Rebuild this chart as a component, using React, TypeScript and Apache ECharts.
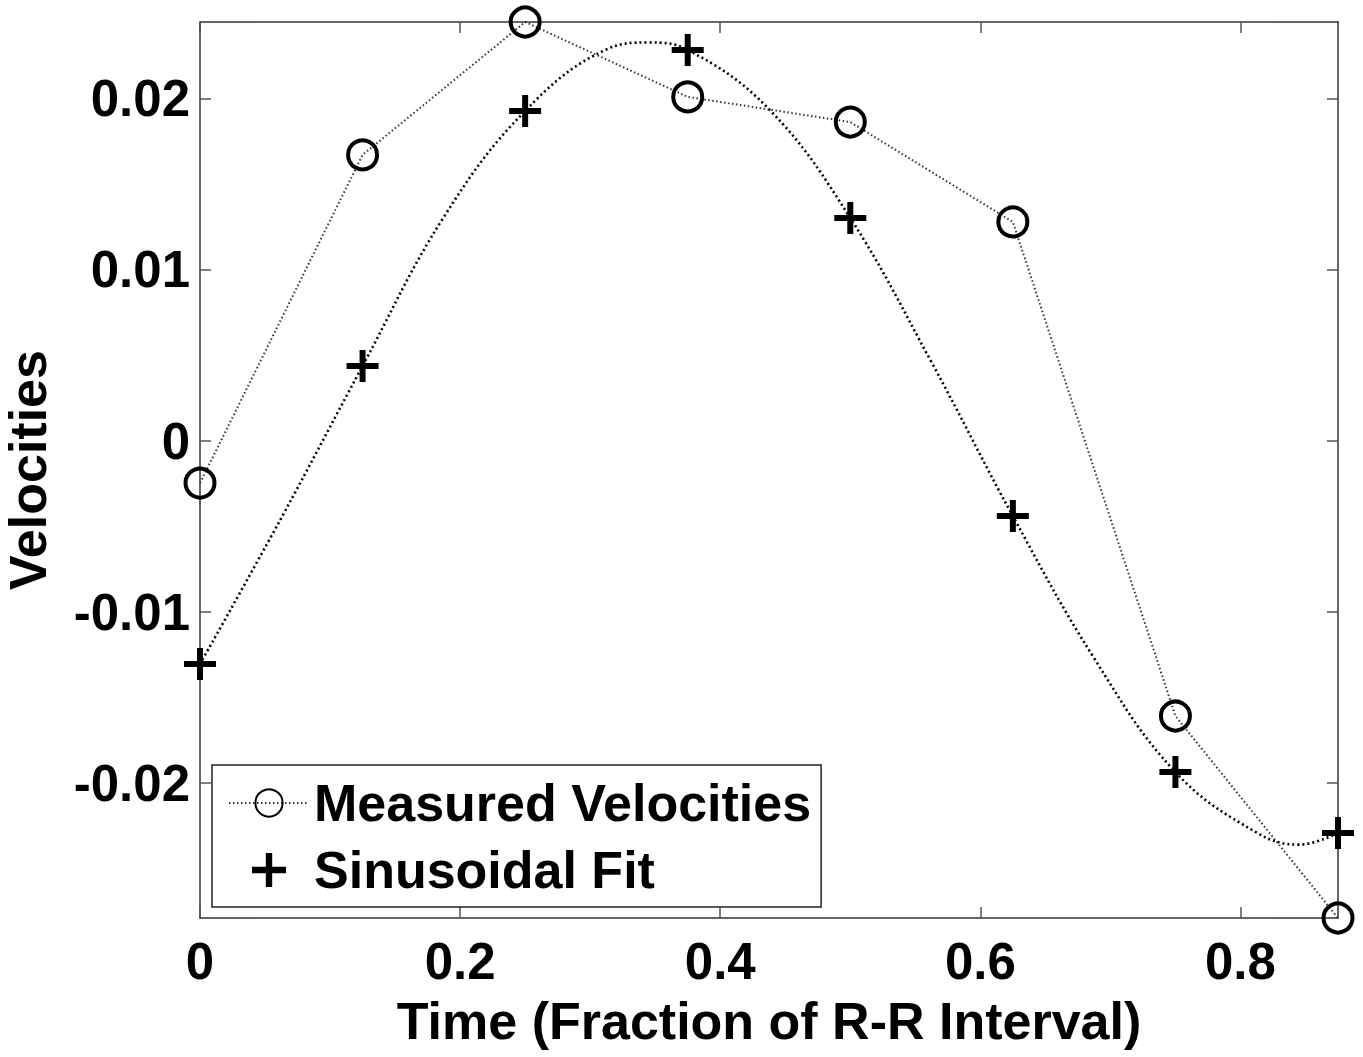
import React, { useEffect, useRef } from "react";
import * as echarts from "echarts";

// Sample times (fraction of R-R interval)
const times = [0, 0.125, 0.25, 0.375, 0.5, 0.625, 0.75, 0.875];
// Measured velocities (circles)
const measured = [-0.00246, 0.01673, 0.0245, 0.02012, 0.01865, 0.01281, -0.01608, -0.02789];
// Sinusoidal fit evaluated at the sample times (plus markers)
const fitAtSamples = [-0.01304, 0.00439, 0.0193, 0.02287, 0.01304, -0.00439, -0.01936, -0.02292];
// Sinusoidal fit curve
const curveT = [0, 0.0625, 0.125, 0.1875, 0.25, 0.3125, 0.345, 0.375, 0.4375, 0.5, 0.5625, 0.625, 0.6875, 0.75, 0.8125, 0.845, 0.875];
const curveV = [-0.01304, -0.0045, 0.00439, 0.0131, 0.0193, 0.0229, 0.0233, 0.02287, 0.0194, 0.01304, 0.0046, -0.00439, -0.0127, -0.01936, -0.0229, -0.0236, -0.02292];
// Axis ticks
const xTicks = [0, 0.2, 0.4, 0.6, 0.8];
const yTicks = [-0.02, -0.01, 0, 0.01, 0.02];
const xRange = [0, 0.875];
const yRange = [-0.02789, 0.0245];

const FONT = "'Liberation Sans', Arial, Helvetica, sans-serif";
const PLUS = "path://M13,0h6v13h13v6h-13v13h-6v-13h-13v-6h13z";

export default function App() {
  const ref = useRef<HTMLDivElement>(null);
  useEffect(() => {
    if (!ref.current) return;
    const chart = echarts.init(ref.current, undefined, { renderer: "svg" });
    const axisLine = { show: true, onZero: false, lineStyle: { color: "#333", width: 1.5 } };
    const tickStyle = { show: true, inside: true, length: 11, lineStyle: { color: "#555", width: 1.5 } };
    const labelStyle = { fontFamily: FONT, fontWeight: "bold" as const, fontSize: 51, color: "#000" };
    chart.setOption({
      animation: false,
      backgroundColor: "#fff",
      grid: { left: 200, top: 22, right: 25, bottom: 139, containLabel: false, outerBoundsMode: "none" },
      legend: {
        orient: "vertical",
        left: 212,
        top: 765,
        padding: [12, 10, 11, 16],
        itemWidth: 80,
        itemHeight: 34,
        itemGap: 15,
        backgroundColor: "#fff",
        borderColor: "#222",
        borderWidth: 1.5,
        borderRadius: 0,
        textStyle: { fontFamily: FONT, fontWeight: "bold", fontSize: 52, color: "#000", lineHeight: 52 },
        data: ["Measured Velocities", "Sinusoidal Fit"],
      },
      xAxis: [
        {
          type: "value",
          min: xRange[0],
          max: xRange[1],
          position: "bottom",
          axisLine,
          axisTick: { ...tickStyle, customValues: xTicks },
          axisLabel: { ...labelStyle, margin: 18, customValues: xTicks, formatter: (v: number) => String(v) },
          splitLine: { show: false },
          name: "Time (Fraction of R-R Interval)",
          nameLocation: "middle",
          nameGap: 77,
          nameTextStyle: { fontFamily: FONT, fontWeight: "bold", fontSize: 52, color: "#000" },
        },
        {
          type: "value",
          min: xRange[0],
          max: xRange[1],
          position: "top",
          axisLine,
          axisTick: { ...tickStyle, customValues: xTicks },
          axisLabel: { show: false },
          splitLine: { show: false },
        },
      ],
      yAxis: [
        {
          type: "value",
          min: yRange[0],
          max: yRange[1],
          position: "left",
          axisLine,
          axisTick: { ...tickStyle, customValues: yTicks },
          axisLabel: { ...labelStyle, margin: 10, customValues: yTicks, formatter: (v: number) => String(v) },
          splitLine: { show: false },
          name: "Velocities",
          nameLocation: "middle",
          nameRotate: 90,
          nameGap: 146,
          nameTextStyle: { fontFamily: FONT, fontWeight: "bold", fontSize: 52, color: "#000" },
        },
        {
          type: "value",
          min: yRange[0],
          max: yRange[1],
          position: "right",
          axisLine,
          axisTick: { ...tickStyle, customValues: yTicks },
          axisLabel: { show: false },
          splitLine: { show: false },
        },
      ],
      series: [
        {
          name: "fitCurve",
          type: "line",
          data: curveT.map((t, i) => [t, curveV[i]]),
          smooth: 0.4,
          showSymbol: false,
          symbol: "none",
          clip: false,
          silent: true,
          lineStyle: { color: "#000", width: 2.6, type: [2, 3] },
          z: 2,
        },
        {
          name: "Measured Velocities",
          type: "line",
          data: times.map((t, i) => [t, measured[i]]),
          symbol: "circle",
          symbolSize: 29,
          showAllSymbol: true,
          clip: false,
          lineStyle: { color: "#333", width: 2, type: [1.5, 2.5] },
          itemStyle: { color: "rgba(255,255,255,0)", borderColor: "#000", borderWidth: 4 },
          z: 3,
        },
        {
          name: "Sinusoidal Fit",
          type: "scatter",
          data: times.map((t, i) => [t, fitAtSamples[i]]),
          symbol: PLUS,
          symbolSize: 32,
          symbolKeepAspect: true,
          clip: false,
          itemStyle: { color: "#000", opacity: 1 },
          z: 4,
        },
      ],
    });
    return () => chart.dispose();
  }, []);
  return <div ref={ref} style={{ position: "fixed", left: 0, top: 0, width: 1363, height: 1057 }} />;
}
